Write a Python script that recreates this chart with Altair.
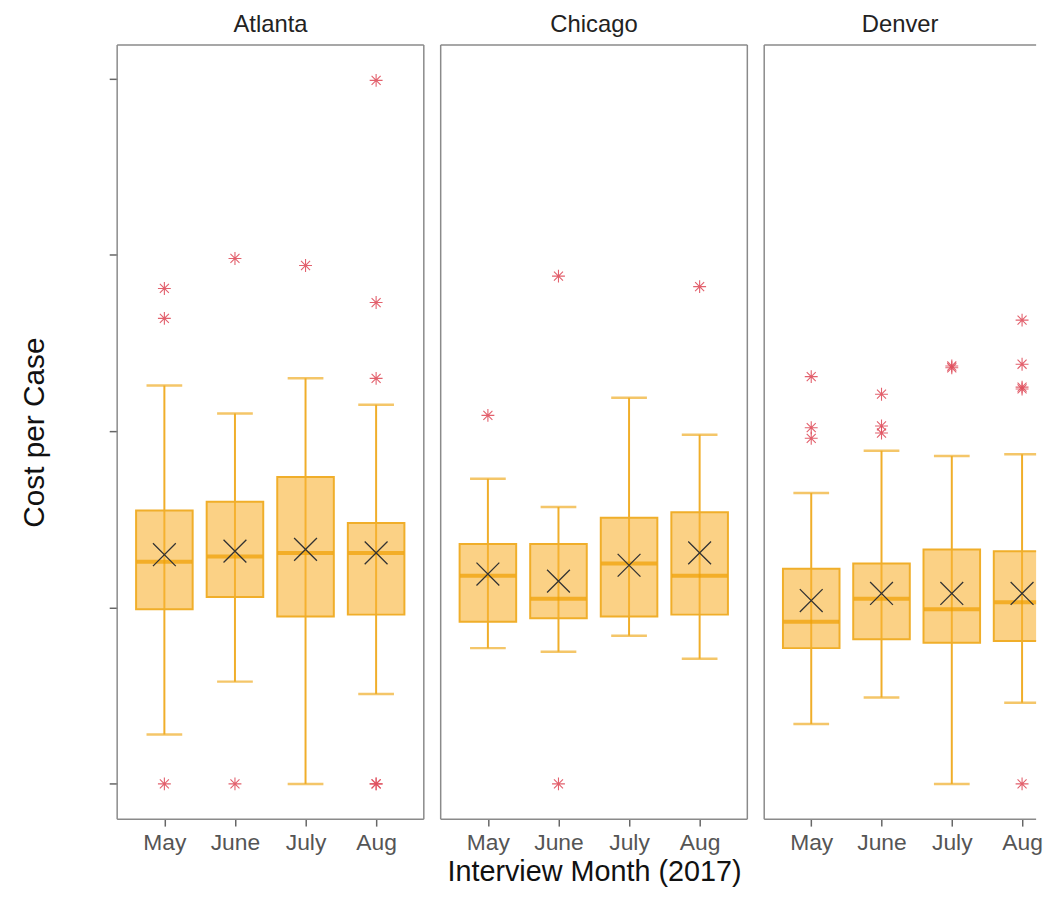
import altair as alt
import pandas as pd

cities = ["Atlanta", "Chicago", "Denver"]
months = ["May", "June", "July", "Aug"]

whisker_low = {
    "Atlanta": [0.28, 0.58, 0.00, 0.51],
    "Chicago": [0.77, 0.75, 0.84, 0.71],
    "Denver":  [0.34, 0.49, 0.00, 0.46],
}
q1 = {
    "Atlanta": [0.99, 1.06, 0.95, 0.96],
    "Chicago": [0.92, 0.94, 0.95, 0.96],
    "Denver":  [0.77, 0.82, 0.80, 0.81],
}
median = {
    "Atlanta": [1.26, 1.29, 1.31, 1.31],
    "Chicago": [1.18, 1.05, 1.25, 1.18],
    "Denver":  [0.92, 1.05, 0.99, 1.03],
}
q3 = {
    "Atlanta": [1.55, 1.60, 1.74, 1.48],
    "Chicago": [1.36, 1.36, 1.51, 1.54],
    "Denver":  [1.22, 1.25, 1.33, 1.32],
}
whisker_high = {
    "Atlanta": [2.26, 2.10, 2.30, 2.15],
    "Chicago": [1.73, 1.57, 2.19, 1.98],
    "Denver":  [1.65, 1.89, 1.86, 1.87],
}
mean = {
    "Atlanta": [1.30, 1.32, 1.33, 1.31],
    "Chicago": [1.19, 1.15, 1.24, 1.31],
    "Denver":  [1.04, 1.08, 1.08, 1.08],
}
outlier_city = ["Atlanta", "Atlanta", "Atlanta", "Atlanta", "Atlanta", "Atlanta", "Atlanta",
                "Atlanta", "Atlanta", "Atlanta", "Atlanta",
                "Chicago", "Chicago", "Chicago", "Chicago",
                "Denver", "Denver", "Denver", "Denver", "Denver", "Denver", "Denver",
                "Denver", "Denver", "Denver", "Denver", "Denver", "Denver"]
outlier_month = ["May", "May", "May", "June", "June", "July", "Aug",
                 "Aug", "Aug", "Aug", "Aug",
                 "May", "June", "June", "Aug",
                 "May", "May", "May", "June", "June", "June", "July",
                 "July", "Aug", "Aug", "Aug", "Aug", "Aug"]
outlier_value = [2.81, 2.64, 0.00, 2.98, 0.00, 2.94, 3.99,
                 2.73, 2.30, 0.00, 0.00,
                 2.09, 2.88, 0.00, 2.82,
                 2.31, 2.02, 1.96, 2.21, 2.03, 1.99, 2.37,
                 2.36, 2.63, 2.38, 2.25, 2.24, 0.00]

rows = []
for c in cities:
    for i, m in enumerate(months):
        rows.append(dict(kind="box", city=c, month=m, low=whisker_low[c][i], q1=q1[c][i],
                         median=median[c][i], q3=q3[c][i], high=whisker_high[c][i],
                         mean=mean[c][i], value=None))
for c, m, v in zip(outlier_city, outlier_month, outlier_value):
    rows.append(dict(kind="out", city=c, month=m, value=v))
df = pd.DataFrame(rows)

FONT = "Liberation Sans"
PANEL_W = 309
PANEL_H = 780
STEP = 73.5
FIRST = 44
BORDER = "#8a8a8a"
ORANGE = "#F0AE2A"

ysc = alt.Scale(domain=[-0.2, 4.19], nice=False, zero=False)
month_js = "[" + ",".join("'%s'" % m for m in months) + "]"


def panel(city, show_y, x_title, visible_w, right_border):
    d0 = -FIRST / STEP
    d1 = d0 + visible_w / STEP
    xsc = alt.Scale(domain=[d0, d1], nice=False, zero=False)
    xaxis_kw = dict(values=[0, 1, 2, 3], labelExpr=month_js + "[datum.value]",
                    labelFontSize=23, labelColor="#555555", labelFont=FONT,
                    tickSize=7, tickColor="#666666", tickWidth=1.5, domain=False,
                    grid=False, labelPadding=6, labelAngle=0, labelFlush=False,
                    labelOverlap=False)
    if x_title:
        xaxis = alt.Axis(title=x_title, titleFontSize=29, titleFont=FONT,
                         titleFontWeight="normal", titleColor="#111111",
                         titlePadding=3, **xaxis_kw)
    else:
        xaxis = alt.Axis(title=None, **xaxis_kw)
    x = alt.X("idx:Q", scale=xsc, axis=xaxis)
    xp = alt.X("idx:Q", scale=xsc)

    if show_y:
        yaxis = alt.Axis(title="Cost per Case", values=[0, 1, 2, 3, 4], labels=False,
                         grid=False, tickSize=8, tickColor="#666666", tickWidth=1.5,
                         domain=False, titleFontSize=30, titleFont=FONT,
                         titleFontWeight="normal", titleColor="#111111", titlePadding=59)
        y_low = alt.Y("low:Q", scale=ysc, axis=yaxis)
    else:
        y_low = alt.Y("low:Q", scale=ysc, axis=None)

    sel = (alt.datum.city == city) & (alt.datum.kind == "box")
    selo = (alt.datum.city == city) & (alt.datum.kind == "out")

    base = alt.Chart(df).transform_calculate(
        idx="indexof(%s, datum.month)" % month_js)
    whisker = base.mark_rule(color=ORANGE, strokeWidth=2, clip=True).encode(
        x=x, y=y_low, y2="high:Q").transform_filter(sel)
    cap_low = base.mark_tick(color=ORANGE, size=36, thickness=2.5, orient="horizontal",
                             clip=True).encode(
        x=xp, y=alt.Y("low:Q", scale=ysc)).transform_filter(sel)
    cap_high = base.mark_tick(color=ORANGE, size=36, thickness=2.5, orient="horizontal",
                              clip=True).encode(
        x=xp, y=alt.Y("high:Q", scale=ysc)).transform_filter(sel)
    box = base.mark_bar(fill="#F9B233", fillOpacity=0.6, stroke=ORANGE, size=57,
                        strokeWidth=2, clip=True, orient="vertical").encode(
        x=xp, y=alt.Y("q1:Q", scale=ysc), y2="q3:Q").transform_filter(sel)
    med = base.mark_tick(color="#F0A000", size=56, thickness=4, orient="horizontal",
                         clip=True).encode(
        x=xp, y=alt.Y("median:Q", scale=ysc)).transform_filter(sel)
    mean_mark = base.mark_point(shape="M-1,-1L1,1M-1,1L1,-1", size=529, filled=False,
                                stroke="#333333", strokeWidth=1.3, opacity=1,
                                clip=True).encode(
        x=xp, y=alt.Y("mean:Q", scale=ysc)).transform_filter(sel)
    outl = base.mark_point(
        shape="M-1,0L1,0M0,-1L0,1M-0.7,-0.7L0.7,0.7M-0.7,0.7L0.7,-0.7",
        size=169, filled=False, stroke="#E0505E", strokeWidth=1.1, opacity=0.9,
        clip=True).encode(x=xp, y=alt.Y("value:Q", scale=ysc)).transform_filter(selo)

    one = alt.Chart(pd.DataFrame({"k": [0]}))
    frame_style = dict(color=BORDER, strokeWidth=1.5)
    top = one.mark_rule(**frame_style).encode(
        x=alt.value(0), x2=alt.value(visible_w), y=alt.value(0))
    bottom = one.mark_rule(**frame_style).encode(
        x=alt.value(0), x2=alt.value(visible_w), y=alt.value(PANEL_H))
    left = one.mark_rule(**frame_style).encode(
        x=alt.value(0), y=alt.value(0), y2=alt.value(PANEL_H))
    layers = [whisker, cap_low, cap_high, box, med, mean_mark, outl, top, bottom, left]
    if right_border:
        right = one.mark_rule(**frame_style).encode(
            x=alt.value(visible_w), y=alt.value(0), y2=alt.value(PANEL_H))
        layers.append(right)

    return alt.layer(*layers).properties(
        width=visible_w, height=PANEL_H,
        title=alt.TitleParams(city, fontSize=24, font=FONT, fontWeight="normal",
                              color="#222222", offset=7, anchor="middle"))


p1 = panel("Atlanta", True, None, PANEL_W, True)
p2 = panel("Chicago", False, "Interview Month (2017)", PANEL_W, True)
p3 = panel("Denver", False, None, 274, False)

chart = alt.hconcat(p1, p2, p3, spacing=15).resolve_scale(
    x="independent", y="independent"
).properties(
    padding={"left": 12, "top": 2, "right": 8, "bottom": 0},
).configure_view(stroke=None)

chart.save("out.html", embed_options={"renderer": "svg", "actions": False})
